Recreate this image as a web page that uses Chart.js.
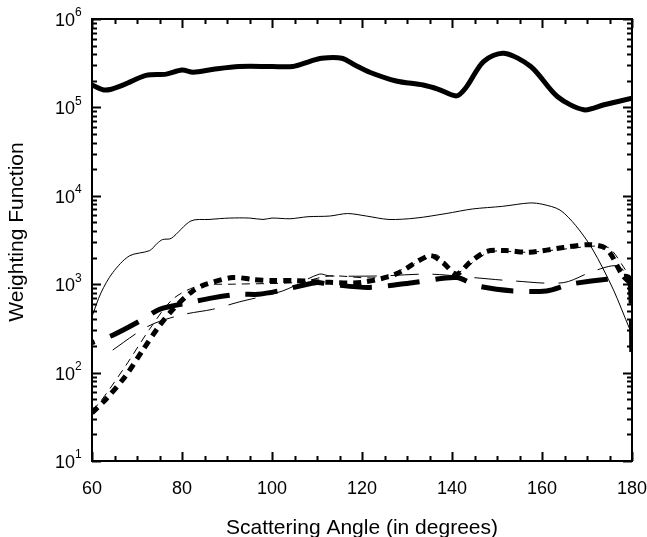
<!DOCTYPE html>
<html>
<head>
<meta charset="utf-8">
<script src="https://cdn.jsdelivr.net/npm/chart.js@4.4.0/dist/chart.umd.min.js"></script>
<style>
  html, body { margin: 0; padding: 0; background: #fff; }
  #box { width: 647px; height: 537px; position: relative; }
</style>
</head>
<body>
<div id="box"><canvas id="wf_chart"></canvas></div>
<script>
// scattering angle (deg) and weighting function values
var thickSolidX = [60, 63, 67, 72, 76.5, 80, 82.5, 87, 92.7, 100, 104.6, 108.3, 111, 115.5, 118.5, 121.7, 127.6, 133.6, 137, 141, 143.2, 147, 151.5, 157.5, 163.4, 169.3, 173.8, 180];
var thickSolidY = [1.79e5, 1.57e5, 1.8e5, 2.3e5, 2.38e5, 2.65e5, 2.5e5, 2.7e5, 2.9e5, 2.9e5, 2.9e5, 3.3e5, 3.6e5, 3.6e5, 3.0e5, 2.5e5, 1.99e5, 1.79e5, 1.6e5, 1.35e5, 1.7e5, 3.3e5, 4.1e5, 2.9e5, 1.33e5, 9.4e4, 1.07e5, 1.27e5];

var thinSolidX = [60, 62, 64.6, 68.3, 72.8, 74.5, 75.7, 77.6, 82, 86, 90.6, 95, 98, 100, 104, 108, 112.8, 116.8, 121, 126, 132, 138.7, 144.6, 151.2, 157.3, 160.2, 164, 167.5, 171.2, 175.8, 179.5, 180];
var thinSolidY = [430, 800, 1350, 2090, 2400, 2900, 3200, 3300, 5200, 5400, 5600, 5600, 5400, 5600, 5500, 5800, 5900, 6300, 5900, 5400, 5600, 6300, 7100, 7600, 8300, 8000, 6900, 4600, 2500, 880, 310, 280];

var thickDotX = [60, 63.1, 67.5, 71.3, 75, 78, 82.4, 85.4, 91.3, 95.8, 100, 104.6, 112.8, 120, 127.5, 135, 137.9, 141, 144, 147.7, 152, 157.3, 164.7, 170.7, 174.4, 178, 180];
var thickDotY = [35, 50, 92, 180, 340, 520, 840, 1000, 1190, 1130, 1100, 1100, 1050, 1050, 1300, 2100, 1770, 1300, 1770, 2350, 2400, 2300, 2600, 2800, 2500, 1240, 1000];

var thickDashX = [60, 64.6, 71.3, 75, 81.7, 86.8, 92.7, 97, 102.4, 109.7, 112.8, 121.6, 131.2, 141, 145.5, 153.6, 161, 166.3, 174.4, 179.5, 180];
var thickDashY = [218, 265, 400, 520, 620, 700, 770, 770, 860, 1040, 1000, 920, 1040, 1190, 960, 840, 840, 1000, 1140, 1150, 120];

var thinDashX = [64.6, 71.3, 75, 80.8, 86.8, 92.7, 102.4, 110.5, 112.8, 124, 135, 144.6, 153.6, 164.7, 171.5, 177, 180];
var thinDashY = [180, 310, 380, 460, 520, 630, 840, 1300, 1240, 1240, 1300, 1190, 1090, 1040, 1410, 1600, 1000];

var thinDotX = [60, 61.6, 67.5, 72.8, 78, 83.8, 91.3, 106, 112.8, 124, 133.8, 136.6, 141, 145.5, 148.7, 157, 165, 171.9, 175, 178, 180];
var thinDotY = [38, 45, 120, 310, 680, 960, 1000, 1050, 1240, 1200, 1900, 2150, 1360, 1900, 2350, 2300, 2500, 2700, 2550, 1600, 1100];

var xTicks = [60, 80, 100, 120, 140, 160, 180];
var yTicks = [1, 2, 3, 4, 5, 6]; // powers of ten

function pts(xs, ys) {
  var out = [];
  for (var i = 0; i < xs.length; i++) out.push({x: xs[i], y: ys[i]});
  return out;
}

function line(xs, ys, width, dash, offset) {
  return {
    data: pts(xs, ys),
    borderColor: '#000',
    borderWidth: width,
    borderDash: dash,
    borderDashOffset: offset || 0,
    borderCapStyle: 'butt',
    pointRadius: 0,
    tension: 0.3,
    fill: false
  };
}

var FONT = '"Liberation Sans", Arial, sans-serif';

var framePlugin = {
  id: 'frame',
  afterDraw: function(chart) {
    var c = chart.ctx;
    var a = chart.chartArea;
    var xs = chart.scales.x, ys = chart.scales.y;
    c.save();
    c.strokeStyle = '#000';
    c.lineWidth = 2;
    c.strokeRect(a.left, a.top, a.right - a.left, a.bottom - a.top);

    // x ticks, major every 20, minor every 5, inward top and bottom
    for (var v = 60; v <= 180; v += 5) {
      var px = Math.round(xs.getPixelForValue(v)) + 0.5;
      var len = (v % 20 === 0) ? 9 : 5;
      c.beginPath();
      c.moveTo(px, a.bottom); c.lineTo(px, a.bottom - len);
      c.moveTo(px, a.top); c.lineTo(px, a.top + len);
      c.stroke();
    }
    // y ticks, decades plus 2..9
    for (var p = 1; p <= 6; p++) {
      for (var m = 1; m <= 9; m++) {
        if (p === 6 && m > 1) break;
        var py = Math.round(ys.getPixelForValue(m * Math.pow(10, p))) + 0.5;
        var l2 = (m === 1) ? 9 : 5;
        c.beginPath();
        c.moveTo(a.left, py); c.lineTo(a.left + l2, py);
        c.moveTo(a.right, py); c.lineTo(a.right - l2, py);
        c.stroke();
      }
    }

    c.fillStyle = '#000';
    // x tick labels
    c.font = '18px ' + FONT;
    c.textAlign = 'center';
    c.textBaseline = 'middle';
    xTicks.forEach(function(t) {
      c.fillText(String(t), xs.getPixelForValue(t), 489);
    });
    // y tick labels with superscript
    yTicks.forEach(function(p) {
      var y = ys.getPixelForValue(Math.pow(10, p));
      c.font = '18px ' + FONT;
      c.textAlign = 'right';
      c.textBaseline = 'middle';
      c.fillText('10', 75, y + 2);
      c.font = '12px ' + FONT;
      c.textAlign = 'left';
      c.fillText(String(p), 75, y - 6);
    });

    // axis titles
    c.font = '21px ' + FONT;
    c.textAlign = 'center';
    c.textBaseline = 'middle';
    c.fillText('Scattering Angle (in degrees)', 362, 528);
    c.save();
    c.translate(17, 232);
    c.rotate(-Math.PI / 2);
    c.fillText('Weighting Function', 0, 0);
    c.restore();
    c.restore();
  }
};

var ctx = document.getElementById('wf_chart').getContext('2d');
var wf_chart = new Chart(ctx, {
  type: 'line',
  data: {
    datasets: [
      line(thickSolidX, thickSolidY, 5, []),
      line(thinSolidX, thinSolidY, 1, []),
      line(thinDashX, thinDashY, 1, [28, 14]),
      line(thinDotX, thinDotY, 1, [8, 6]),
      line(thickDashX, thickDashY, 5, [32, 16], 29),
      line(thickDotX, thickDotY, 5, [8, 6])
    ]
  },
  options: {
    responsive: true,
    maintainAspectRatio: false,
    animation: false,
    layout: { padding: { left: 92, right: 15, top: 19, bottom: 76 } },
    plugins: { legend: { display: false }, tooltip: { enabled: false } },
    scales: {
      x: { type: 'linear', min: 60, max: 180, display: false },
      y: { type: 'logarithmic', min: 10, max: 1e6, display: false }
    }
  },
  plugins: [framePlugin]
});
</script>
</body>
</html>
